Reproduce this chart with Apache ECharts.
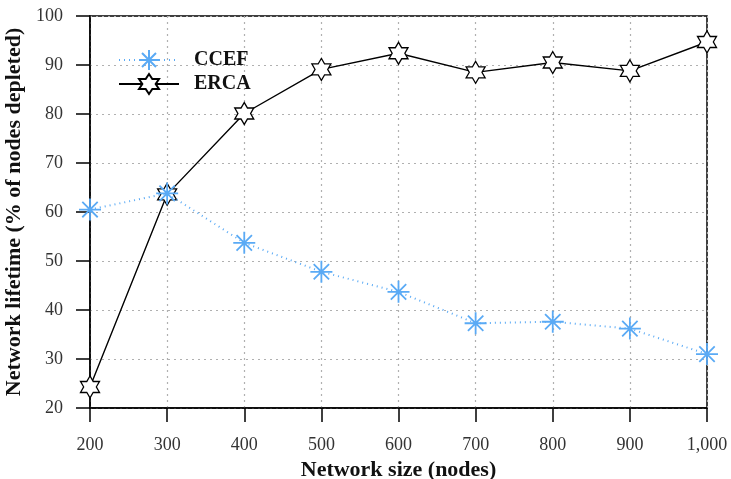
<!DOCTYPE html>
<html>
<head>
<meta charset="utf-8">
<script src="https://cdn.jsdelivr.net/npm/echarts@6/dist/echarts.min.js"></script>
<style>
  html, body { margin: 0; padding: 0; background: #fff; }
  #chart { width: 731px; height: 479px; }
</style>
</head>
<body>
<div id="chart"></div>
<script>
// Network size (number of nodes)
const networkSizes = [200, 300, 400, 500, 600, 700, 800, 900, 1000];
// Network lifetime (% of nodes depleted) per protocol
const ccefValues = [60.5, 63.8, 53.7, 47.8, 43.7, 37.3, 37.6, 36.2, 31.0];
const ercaValues = [24.3, 63.6, 80.1, 89.1, 92.4, 88.5, 90.5, 88.8, 94.7];

const FONT = '"Liberation Serif", "DejaVu Serif", serif';

// Asterisk glyph (8 spokes) and outlined six-pointed star
const asteriskPath = 'path://M0,-100L0,100M-100,0L100,0M-70,-70L70,70M-70,70L70,-70';
const hexagramPath = 'path://M0,-100L28.9,-50L86.6,-50L57.7,0L86.6,50L28.9,50L0,100L-28.9,50L-86.6,50L-57.7,0L-86.6,-50L-28.9,-50Z';

const chart = echarts.init(document.getElementById('chart'));

const dotted = { type: [2, 4], color: '#b0b0b0', width: 1.2 };

chart.setOption({
  animation: false,
  backgroundColor: '#fff',
  grid: {
    left: 90, right: 24, top: 16, bottom: 71,
    outerBoundsMode: 'none',
    containLabel: false,
    show: true, borderColor: '#000', borderWidth: 1.5
  },
  legend: {
    left: 113, top: 44,
    orient: 'vertical',
    itemGap: 2,
    itemWidth: 60, itemHeight: 25,
    textStyle: { fontFamily: FONT, fontWeight: 'bold', fontSize: 20, color: '#111', padding: [0, 0, 0, 10] },
    data: ['CCEF', 'ERCA']
  },
  xAxis: {
    type: 'value',
    min: 200, max: 1000, interval: 100,
    name: 'Network size (nodes)',
    nameLocation: 'middle', nameGap: 46,
    nameTextStyle: { fontFamily: FONT, fontWeight: 'bold', fontSize: 22, color: '#111' },
    axisLine: { show: true, lineStyle: { color: '#000', width: 1.5 } },
    axisTick: { show: true, inside: false, length: 14, lineStyle: { color: '#000', width: 1.5 } },
    axisLabel: {
      margin: 28, fontFamily: FONT, fontSize: 18, color: '#333',
      formatter: v => v >= 1000 ? (Math.floor(v / 1000) + ',' + String(v % 1000).padStart(3, '0')) : String(v)
    },
    splitLine: { show: true, lineStyle: dotted }
  },
  yAxis: {
    type: 'value',
    min: 20, max: 100, interval: 10,
    name: 'Network lifetime (% of nodes depleted)',
    nameLocation: 'middle', nameGap: 57,
    nameTextStyle: { fontFamily: FONT, fontWeight: 'bold', fontSize: 22, color: '#111' },
    axisLine: { show: true, lineStyle: { color: '#000', width: 1.5 } },
    axisTick: { show: true, inside: false, length: 14, lineStyle: { color: '#000', width: 1.5 } },
    axisLabel: { margin: 27, fontFamily: FONT, fontSize: 18, color: '#333' },
    splitLine: { show: true, lineStyle: dotted }
  },
  series: [
    {
      name: 'CCEF',
      type: 'line',
      data: networkSizes.map((x, i) => [x, ccefValues[i]]),
      symbol: asteriskPath,
      symbolSize: 22,
      lineStyle: { color: '#5aaaf5', width: 2, type: [1, 4] },
      itemStyle: { color: 'rgba(0,0,0,0)', borderColor: '#5aaaf5', borderWidth: 1.8 },
      z: 3
    },
    {
      name: 'ERCA',
      type: 'line',
      data: networkSizes.map((x, i) => [x, ercaValues[i]]),
      symbol: hexagramPath,
      symbolSize: [19, 22],
      lineStyle: { color: '#000', width: 1.4 },
      itemStyle: { color: '#fff', borderColor: '#000', borderWidth: 1.3 },
      z: 2
    }
  ]
});
</script>
</body>
</html>
